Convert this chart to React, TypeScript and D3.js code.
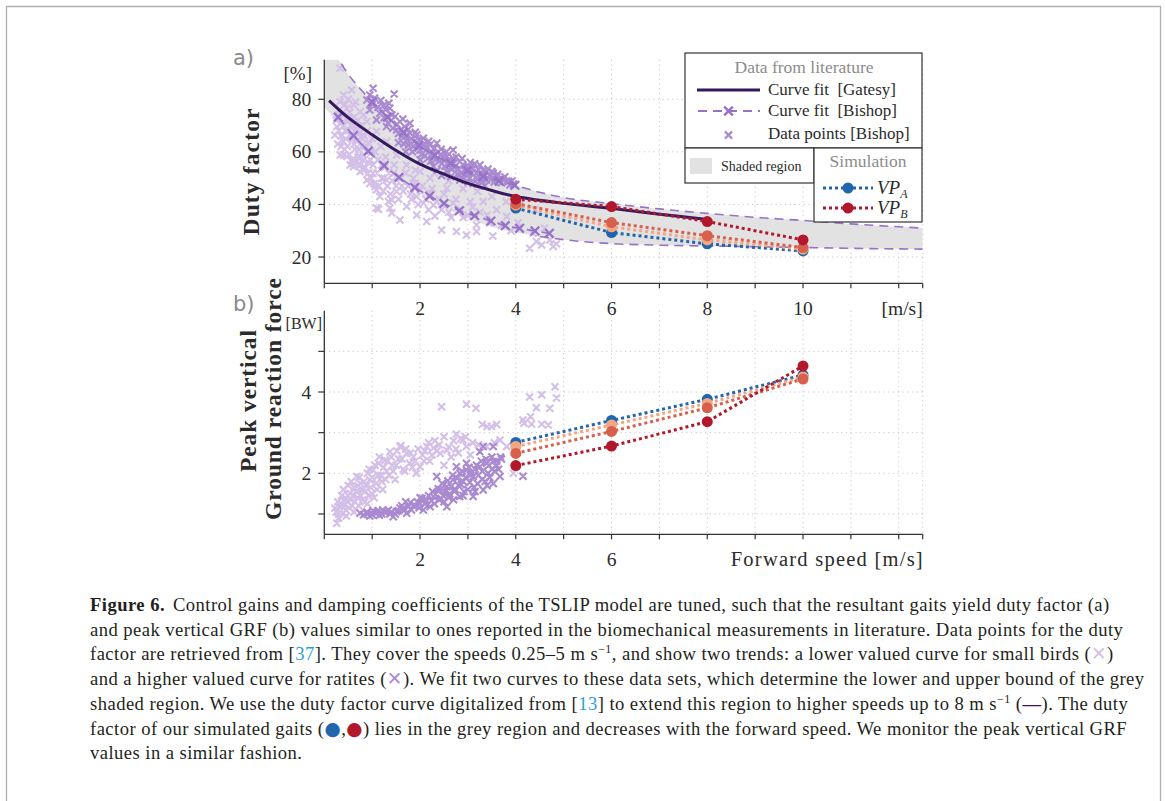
import React from 'react';
import * as d3 from 'd3';

// ---------------- data ----------------
const speedGrid = [1, 2, 3, 4, 5, 6, 7, 8, 9, 10, 11, 12, 12.5];
const speedTicks = [0, 1, 2, 3, 4, 5, 6, 7, 8, 9, 10, 11, 12, 12.5];
const topSpeedLabels = [2, 4, 6, 8, 10];
const bottomSpeedLabels = [2, 4, 6];
const dutyTicks = [20, 40, 60, 80];
const grfTicks = [1, 2, 3, 4, 5];
const grfLabels = [2, 4];

// duty factor curve fit [Gatesy]  [speed m/s, duty %]
const gatesyCurve: [number, number][] = [
  [0.1, 79.5], [0.5, 73], [1, 66.5], [1.5, 60.5], [2, 55.3], [2.5, 51.5], [3, 48],
  [3.5, 45.3], [4, 43], [5, 40.4], [6, 38.5], [7, 36.3], [8, 34.3],
];
// upper bound of shaded region (dashed, Bishop ratites fit)
const upperBound: [number, number][] = [
  [0, 103], [0.15, 99], [0.3, 95], [0.5, 89.5], [0.75, 84], [1.0, 79], [1.32, 73.2],
  [1.65, 67.5], [1.98, 62.5], [2.31, 58.7], [2.64, 55.6], [2.99, 52.9], [3.32, 50.7],
  [3.65, 48.9], [3.98, 47.3], [4.5, 44.6], [5, 42.6], [6, 40.3], [7, 38.3], [8, 36.6],
  [9, 35.1], [10, 33.9], [11, 32.6], [12.5, 31.0],
];
const upperFitMarks: [number, number][] = [
  [1.0, 79], [1.32, 73.2], [1.65, 67.5], [1.98, 62.5], [2.31, 58.7], [2.64, 55.6],
  [2.99, 52.9], [3.32, 50.7], [3.65, 48.9], [3.98, 47.3],
];
// lower Bishop fit (small birds)
const lowerFitMarks: [number, number][] = [
  [0.29, 73.2], [0.61, 66.2], [0.92, 60.3], [1.25, 54.8], [1.56, 50.3], [1.89, 46.4],
  [2.2, 43.2], [2.5, 40.4], [2.82, 37.6], [3.14, 35.7], [3.48, 33.7], [3.78, 31.9],
  [4.08, 30.9], [4.4, 29.9], [4.7, 29.0],
];
const lowerBound: [number, number][] = [
  [0, 77], [0.3, 71], [0.6, 64.5], [1, 58], [1.5, 50], [2, 44], [2.5, 38.8], [3, 34.5],
  [3.5, 31.4], [4, 29.3], [4.5, 27.8], [5, 26.6], [6, 25.1], [7, 24.5], [8, 24.2],
  [9, 23.9], [10, 23.6], [11, 23.3], [12.5, 23.0],
];

const ratitesDuty: [number, number][] = [
  [0.89, 79.7], [0.95, 75.9], [0.95, 81.6], [1.02, 84.2], [1.09, 72.1], [1.16, 74.7], [1.23, 77.5],
  [1.3, 69.6], [1.37, 76.6], [1.41, 74], [1.46, 82], [1.51, 68.3], [1.58, 71.5], [1.62, 66],
  [1.68, 69.6], [1.72, 64.5], [1.79, 67.1], [1.79, 70.9], [1.86, 62], [1.93, 66.4], [1.93, 63.5],
  [2.0, 60.7], [2.07, 65.2], [2.1, 58.5], [2.14, 62], [2.2, 62.6], [2.22, 56.5], [2.28, 58.8],
  [2.28, 54.4], [2.35, 63.3], [2.38, 60], [2.42, 58.8], [2.45, 55.5], [2.5, 57.5], [2.56, 58.2],
  [2.56, 52.5], [2.62, 56], [2.69, 57.6], [2.69, 60.7], [2.72, 54], [2.78, 51.5], [2.83, 56.3],
  [2.83, 49.3], [2.9, 55], [2.97, 54.4], [3.0, 51.2], [3.05, 56], [3.11, 53.8], [3.11, 48],
  [3.18, 52], [3.25, 55], [3.25, 50.5], [3.32, 53], [3.39, 52.5], [3.39, 49.3], [3.45, 51],
  [3.53, 51.9], [3.55, 48.5], [3.6, 50.5], [3.67, 49.8], [3.74, 49.3], [3.81, 48.5], [3.88, 47.5],
  [3.95, 47.8], [2.0, 57], [1.55, 63.5], [1.7, 60], [2.45, 51], [3.0, 48.5], [3.35, 47],
  [1.0, 78], [1.05, 80.5], [1.12, 77], [1.18, 79.5], [1.25, 73], [1.28, 76], [1.33, 71], [1.35, 78.5],
  [1.4, 72], [1.43, 69], [1.48, 73.5], [1.52, 70.5], [1.55, 67], [1.6, 68.5], [1.64, 72.5], [1.66, 63],
  [1.7, 66], [1.75, 68.5], [1.76, 62.5], [1.82, 65], [1.84, 60], [1.88, 64], [1.9, 67.5], [1.96, 61.5],
  [1.98, 64.5], [2.03, 59], [2.05, 62.5], [2.12, 60.5], [2.16, 57.5], [2.18, 64], [2.25, 59.5],
  [2.3, 61.5], [2.32, 57], [2.4, 56.5], [2.44, 61], [2.48, 58], [2.52, 54.5], [2.55, 60], [2.6, 57],
  [2.66, 53.5], [2.7, 55.5], [2.75, 58], [2.8, 53.5], [2.86, 52], [2.88, 57.5], [2.94, 52.8], [3.0, 54.6],
  [3.03, 50], [3.08, 52], [3.14, 55.5], [3.16, 50.2], [3.22, 53.2], [3.28, 51.5], [3.3, 48.5], [3.36, 51],
  [3.42, 53.5], [3.48, 49.5], [3.5, 52.5], [3.57, 49.6], [3.62, 51.5], [3.7, 48.2], [3.77, 50.5],
  [3.85, 48.8], [3.92, 48.9], [2.36, 53], [2.64, 50.5], [2.9, 50], [3.2, 48],
];
const smallBirdsDuty: [number, number][] = [
  [0.22, 66.4], [0.26, 69.6], [0.3, 74], [0.33, 91.8], [0.33, 79.1], [0.33, 58.8], [0.36, 71],
  [0.4, 81.6], [0.4, 63.9], [0.4, 58.8], [0.44, 68], [0.47, 76.6], [0.47, 58.2], [0.5, 72],
  [0.54, 55], [0.57, 83.5], [0.58, 65], [0.61, 77.8], [0.61, 55.7], [0.61, 54.4], [0.64, 61],
  [0.68, 69], [0.7, 58], [0.75, 75.3], [0.75, 58.2], [0.75, 52.5], [0.8, 65], [0.81, 53.1],
  [0.81, 58.8], [0.85, 62], [0.89, 71.5], [0.89, 49.3], [0.92, 56], [0.95, 48], [0.98, 60],
  [1.02, 51.9], [1.06, 46.8], [1.09, 67.7], [1.09, 45.5], [1.09, 38.6], [1.13, 38.2], [1.16, 43],
  [1.2, 55], [1.25, 50], [1.3, 63.9], [1.3, 49.3], [1.34, 41.1], [1.37, 38.6], [1.41, 36.7],
  [1.41, 41.7], [1.45, 52], [1.51, 58.8], [1.51, 44.9], [1.58, 34.1], [1.62, 47], [1.72, 55],
  [1.72, 39.2], [1.8, 44], [1.86, 50], [1.93, 36], [1.93, 43], [2.0, 45.5], [2.0, 52.5],
  [2.07, 40.5], [2.14, 33.5], [2.21, 44.3], [2.21, 50], [2.28, 39.8], [2.31, 35.6], [2.4, 42],
  [2.45, 30.3], [2.56, 46.2], [2.6, 37], [2.69, 40.5], [2.76, 29.7], [2.83, 49.3], [2.9, 35],
  [2.97, 28.4], [3.05, 41], [3.18, 29.7], [3.18, 32.2], [3.32, 41.1], [3.4, 36], [3.52, 28],
  [3.6, 38], [3.81, 35.4], [3.9, 30], [4.05, 33], [4.29, 23.3], [4.36, 29], [4.43, 25.9],
  [4.54, 24.6], [4.6, 31], [4.71, 26.5], [4.78, 24], [4.85, 25],
  [0.25, 72], [0.28, 63], [0.3, 68], [0.32, 76], [0.35, 62], [0.35, 66], [0.38, 74], [0.4, 70],
  [0.42, 61], [0.43, 78], [0.45, 65], [0.46, 72.5], [0.48, 62], [0.5, 68], [0.5, 80], [0.52, 59],
  [0.53, 75], [0.55, 66], [0.56, 70], [0.58, 57], [0.6, 73], [0.62, 63], [0.63, 68], [0.65, 79],
  [0.66, 56], [0.68, 64], [0.7, 72], [0.72, 61], [0.73, 67], [0.75, 55], [0.77, 70], [0.78, 62],
  [0.8, 57], [0.82, 74], [0.84, 66], [0.86, 54], [0.88, 60], [0.9, 68], [0.92, 52], [0.94, 63],
  [0.96, 57], [0.98, 50], [1.0, 65], [1.02, 55], [1.04, 48], [1.06, 60], [1.1, 52], [1.12, 57],
  [1.14, 47], [1.18, 62], [1.2, 50], [1.23, 45], [1.26, 54], [1.28, 58], [1.32, 47], [1.35, 52],
  [1.38, 44], [1.42, 49], [1.46, 55], [1.5, 47], [1.55, 42], [1.6, 50], [1.65, 45], [1.7, 52],
  [1.75, 47], [1.82, 42], [1.9, 48], [1.96, 40], [2.05, 47], [2.12, 42], [2.18, 38], [2.25, 46],
  [2.35, 41], [2.45, 38], [2.5, 44], [2.65, 35], [2.75, 42], [2.85, 38], [3.0, 36], [3.1, 39],
  [3.25, 37], [3.45, 33], [3.7, 32], [2.3, 52], [2.6, 49], [2.9, 46], [3.2, 45], [3.5, 43],
  [3.8, 41], [4.1, 40], [4.4, 38], [1.9, 53],
];

// peak vertical GRF [speed m/s, BW]
const smallBirdsGRF: [number, number][] = [
  [0.22, 1.14], [0.26, 0.77], [0.3, 1.0], [0.35, 1.25], [0.4, 1.34], [0.45, 1.1], [0.5, 1.45],
  [0.54, 1.51], [0.58, 1.2], [0.62, 1.65], [0.68, 1.92], [0.7, 1.4], [0.75, 1.75], [0.81, 1.59],
  [0.85, 1.3], [0.9, 2.0], [0.95, 1.84], [1.0, 1.5], [1.02, 2.08], [1.08, 1.75], [1.13, 2.25],
  [1.18, 1.95], [1.22, 1.6], [1.27, 2.33], [1.3, 2.05], [1.37, 2.53], [1.42, 2.2], [1.48, 1.85],
  [1.55, 2.35], [1.58, 2.66], [1.6, 2.68], [1.65, 2.1], [1.72, 2.49], [1.78, 2.25], [1.86, 2.41],
  [1.92, 2.0], [2.0, 2.16], [2.05, 2.45], [2.14, 2.66], [2.2, 2.3], [2.31, 2.8], [2.35, 2.55],
  [2.42, 2.49], [2.45, 3.64], [2.5, 2.2], [2.56, 2.57], [2.65, 2.4], [2.76, 2.96], [2.8, 2.5],
  [2.85, 2.85], [2.9, 2.82], [2.97, 2.66], [2.97, 3.7], [3.05, 2.45], [3.17, 3.6], [3.22, 2.7],
  [3.39, 2.66], [3.4, 3.15], [3.49, 3.15], [3.67, 2.82], [3.81, 2.66], [3.95, 2.0], [4.15, 3.31],
  [4.17, 3.23], [4.29, 3.88], [4.31, 3.39], [4.33, 3.21], [4.43, 3.61], [4.54, 3.93], [4.54, 3.21],
  [4.68, 3.19], [4.71, 3.6], [4.82, 4.13], [4.85, 3.85],
  [0.25, 1.05], [0.28, 1.3], [0.3, 0.9], [0.32, 1.18], [0.36, 1.45], [0.38, 1.0], [0.4, 1.6],
  [0.42, 1.22], [0.44, 1.4], [0.46, 0.95], [0.48, 1.3], [0.5, 1.7], [0.52, 1.15], [0.55, 1.35],
  [0.56, 1.8], [0.6, 1.45], [0.62, 1.05], [0.64, 1.3], [0.66, 1.55], [0.7, 1.7], [0.72, 1.2],
  [0.73, 1.9], [0.76, 1.45], [0.78, 1.62], [0.8, 1.35], [0.83, 1.8], [0.86, 1.55], [0.88, 1.7],
  [0.9, 1.25], [0.92, 1.45], [0.94, 2.1], [0.97, 1.65], [1.0, 1.9], [1.04, 1.4], [1.06, 2.2],
  [1.1, 1.6], [1.12, 1.95], [1.15, 2.4], [1.2, 1.8], [1.24, 2.15], [1.28, 1.85], [1.32, 2.3],
  [1.35, 1.95], [1.4, 2.4], [1.44, 2.05], [1.5, 2.2], [1.52, 2.55], [1.62, 2.35], [1.68, 2.05],
  [1.7, 2.6], [1.8, 2.5], [1.84, 2.15], [1.9, 2.3], [1.96, 2.6], [2.08, 2.3], [2.1, 2.55],
  [2.18, 2.75], [2.25, 2.45], [2.28, 2.62], [2.4, 2.7], [2.5, 2.9], [2.6, 2.65], [2.7, 2.8],
  [2.75, 2.6], [2.95, 2.9], [3.1, 2.75], [3.3, 3.2], [3.55, 2.75], [3.6, 3.2],
];
const ratitesGRF: [number, number][] = [
  [0.75, 1.02], [0.82, 0.98], [0.89, 1.05], [0.95, 0.95], [1.02, 1.08], [1.09, 1.02], [1.15, 0.97],
  [1.22, 1.1], [1.3, 1.06], [1.37, 1.0], [1.44, 0.93], [1.51, 1.06], [1.58, 1.15], [1.65, 1.14],
  [1.72, 1.02], [1.82, 1.1], [1.9, 1.2], [2.0, 1.26], [2.07, 1.1], [2.14, 1.34], [2.21, 1.18],
  [2.28, 1.43], [2.3, 1.25], [2.35, 1.92], [2.4, 1.35], [2.42, 1.59], [2.48, 1.45], [2.56, 1.67],
  [2.56, 1.18], [2.62, 1.5], [2.69, 1.84], [2.72, 1.55], [2.76, 2.16], [2.8, 1.7], [2.83, 2.0],
  [2.83, 1.43], [2.9, 1.8], [2.97, 2.08], [2.97, 2.25], [3.0, 1.6], [3.05, 1.95], [3.11, 1.92],
  [3.11, 1.43], [3.15, 2.1], [3.2, 1.75], [3.25, 2.16], [3.25, 2.53], [3.3, 1.85], [3.32, 1.59],
  [3.32, 2.66], [3.39, 2.25], [3.42, 2.0], [3.5, 2.1], [3.53, 2.29], [3.53, 1.75], [3.53, 2.66],
  [3.6, 2.2], [3.67, 1.92], [3.7, 2.35], [4.15, 1.93],
  [0.9, 1.0], [1.0, 0.98], [1.05, 1.04], [1.12, 1.08], [1.2, 1.0], [1.26, 1.04], [1.34, 1.1],
  [1.4, 1.05], [1.48, 1.0], [1.55, 1.08], [1.62, 1.2], [1.68, 1.1], [1.76, 1.18], [1.8, 1.28],
  [1.86, 1.2], [1.94, 1.3], [1.98, 1.15], [2.04, 1.38], [2.1, 1.25], [2.18, 1.45], [2.24, 1.32],
  [2.26, 1.55], [2.32, 1.48], [2.38, 1.62], [2.44, 1.38], [2.46, 1.75], [2.52, 1.55], [2.58, 1.82],
  [2.6, 1.4], [2.65, 1.68], [2.68, 1.95], [2.74, 1.6], [2.78, 1.88], [2.86, 1.72], [2.88, 2.05],
  [2.92, 1.55], [2.95, 1.9], [3.02, 2.15], [3.04, 1.78], [3.08, 2.02], [3.13, 1.65], [3.18, 2.2],
  [3.22, 1.95], [3.28, 2.3], [3.3, 2.05], [3.36, 1.8], [3.38, 2.35], [3.44, 2.2], [3.46, 1.9],
  [3.5, 2.4], [3.56, 2.05], [3.6, 2.3], [3.64, 2.1], [3.68, 2.4], [2.5, 1.3], [2.7, 1.35],
  [2.9, 1.45], [3.15, 1.55], [3.4, 1.7], [1.7, 1.3], [2.0, 1.4],
];

// simulation
const simSpeeds = [4, 6, 8, 10];
const dutyVPA = [38.6, 29.3, 25.0, 22.3];
const dutyMidA = [39.7, 31.5, 26.5, 23.0];
const dutyMidB = [40.3, 33.1, 28.1, 23.6];
const dutyVPB = [42.0, 39.2, 33.5, 26.5];
const grfVPA = [2.76, 3.3, 3.82, 4.42];
const grfMidA = [2.66, 3.19, 3.72, 4.37];
const grfMidB = [2.49, 3.03, 3.61, 4.32];
const grfVPB = [2.19, 2.67, 3.27, 4.64];

// ---------------- styles ----------------
const C = {
  gatesy: '#35195f',
  bishop: '#9772c9',
  light: '#d3bfe7',
  dark: '#a98ad1',
  shade: '#e2e2e2',
  grid: '#c8c8c8',
  axis: '#333',
  text: '#2b2b2b',
  vpA: '#2166ac',
  midA: '#f4a582',
  midB: '#d6604d',
  vpB: '#b2182b',
  cite: '#2a9fd8',
};
const SERIF = '"Liberation Serif", "DejaVu Serif", serif';
const SANS = '"DejaVu Sans", "Liberation Sans", sans-serif';

const xS = d3.scaleLinear().domain([0, 12.5]).range([324.3, 922.7]);
const yD = d3.scaleLinear().domain([10, 95]).range([283.3, 59.85]);
const yG = d3.scaleLinear().domain([0.5, 6]).range([534.3, 310.7]);

function crosses(pts: [number, number][], ys: (v: number) => number, s: number) {
  return pts
    .map(([a, b]) => {
      const x = xS(a), y = ys(b);
      return `M${x - s},${y - s}L${x + s},${y + s}M${x - s},${y + s}L${x + s},${y - s}`;
    })
    .join('');
}

const Cross = ({ x, y, s, color, w }: any) => (
  <path d={`M${x - s},${y - s}L${x + s},${y + s}M${x - s},${y + s}L${x + s},${y - s}`} stroke={color} strokeWidth={w} fill="none" />
);

export default function App() {
  const lineD = d3.line<[number, number]>().x((d) => xS(d[0])).y((d) => yD(d[1])).curve(d3.curveMonotoneX);
  const up = lineD(upperBound) as string;
  const lowRev = (d3.line<[number, number]>().x((d) => xS(d[0])).y((d) => yD(d[1])).curve(d3.curveLinear)(
    lowerBound.slice().reverse()
  ) as string).replace(/^M/, 'L');
  const shadePath = up + lowRev + 'Z';

  const sims = [
    { key: 'A', duty: dutyVPA, grf: grfVPA, color: C.vpA },
    { key: 'mA', duty: dutyMidA, grf: grfMidA, color: C.midA },
    { key: 'mB', duty: dutyMidB, grf: grfMidB, color: C.midB },
    { key: 'B', duty: dutyVPB, grf: grfVPB, color: C.vpB },
  ];
  const simLine = (vals: number[], ys: (v: number) => number) =>
    d3.line<number>().x((_, i) => xS(simSpeeds[i])).y((d) => ys(d))(vals) as string;

  const x0 = xS(0), x1 = xS(12.5);
  const capX = 90;
  const capY0 = 611;
  const capDy = 24.7;
  const capFs = 18.6;
  const ms = 3.5;

  return (
    <svg width={1165} height={801} style={{ position: 'absolute', left: 0, top: 0, background: '#fff' }} fontFamily={SERIF}>
      <defs>
        <clipPath id="clipTop">
          <rect x={x0} y={yD(95)} width={x1 - x0} height={yD(10) - yD(95)} />
        </clipPath>
        <clipPath id="clipBot">
          <rect x={x0} y={yG(6)} width={x1 - x0} height={yG(0.5) - yG(6)} />
        </clipPath>
      </defs>
      <rect x={0} y={0} width={1165} height={801} fill="#fff" />
      {/* frame */}
      <path d="M6.5,820V6.5H1160.5V820" fill="none" stroke="#b0b0b0" strokeWidth={1.3} />

      {/* ---------- panel a ---------- */}
      <g>
        {speedGrid.map((v) => (
          <line key={'gv' + v} x1={xS(v)} x2={xS(v)} y1={yD(95)} y2={yD(10)} stroke={C.grid} strokeDasharray="1.2,3.5" />
        ))}
        {dutyTicks.map((v) => (
          <line key={'gh' + v} x1={x0} x2={x1} y1={yD(v)} y2={yD(v)} stroke={C.grid} strokeDasharray="1.2,3.5" />
        ))}
        <g clipPath="url(#clipTop)">
          <path d={shadePath} fill={C.shade} />
          <path d={crosses(smallBirdsDuty, yD, ms)} stroke={C.light} strokeWidth={2.1} fill="none" />
          <path d={crosses(ratitesDuty, yD, ms)} stroke={C.dark} strokeWidth={2.1} fill="none" />
          <path d={up} fill="none" stroke={C.bishop} strokeWidth={1.6} strokeDasharray="9,6" />
          <path d={lineD(lowerBound.filter((d) => d[0] >= 4.5)) as string} fill="none" stroke={C.bishop} strokeWidth={1.6} strokeDasharray="9,6" />
          <path d={lineD(lowerFitMarks) as string} fill="none" stroke={C.bishop} strokeWidth={1.6} strokeDasharray="9,6" />
          <path d={crosses(upperFitMarks, yD, 4.3)} stroke={C.bishop} strokeWidth={2.3} fill="none" />
          <path d={crosses(lowerFitMarks, yD, 4.3)} stroke={C.bishop} strokeWidth={2.3} fill="none" />
          <path d={d3.line<[number, number]>().x((d) => xS(d[0])).y((d) => yD(d[1])).curve(d3.curveCatmullRom)(gatesyCurve) as string}
            fill="none" stroke={C.gatesy} strokeWidth={3} />
          {sims.map((s) => (
            <path key={'ld' + s.key} d={simLine(s.duty, yD)} fill="none" stroke={s.color} strokeWidth={3} strokeDasharray="3,3" />
          ))}
          {sims.map((s) =>
            s.duty.map((v, i) => <circle key={'cd' + s.key + i} cx={xS(simSpeeds[i])} cy={yD(v)} r={5.5} fill={s.color} />)
          )}
        </g>
        {/* axes */}
        <line x1={x0} x2={x0} y1={yD(95)} y2={yD(10)} stroke={C.axis} strokeWidth={1.3} />
        <line x1={x0} x2={x1} y1={yD(10)} y2={yD(10)} stroke={C.axis} strokeWidth={1.3} />
        {speedTicks.map((v) => (
          <line key={'tx' + v} x1={xS(v)} x2={xS(v)} y1={yD(10)} y2={yD(10) + 5} stroke={C.axis} strokeWidth={1.2} />
        ))}
        {dutyTicks.map((v) => (
          <g key={'ty' + v}>
            <line x1={x0 - 6} x2={x0} y1={yD(v)} y2={yD(v)} stroke={C.axis} strokeWidth={1.2} />
            <text x={x0 - 13} y={yD(v) + 6.5} textAnchor="end" fontSize={19.5} fill={C.text}>{v}</text>
          </g>
        ))}
        {topSpeedLabels.map((v) => (
          <text key={'lx' + v} x={xS(v)} y={315} textAnchor="middle" fontSize={19.5} fill={C.text}>{v}</text>
        ))}
        <text x={x1} y={315} textAnchor="end" fontSize={19.5} fill={C.text}>[m/s]</text>
        <text x={312} y={80} textAnchor="end" fontSize={19} fill={C.text}>[%]</text>
        <text x={233} y={65} fontSize={21} fontFamily={SANS} fill="#8a8a8a">a)</text>
        <text transform="translate(259,172) rotate(-90)" textAnchor="middle" fontSize={23.5} fontWeight="bold" fill={C.text} textLength={127}>Duty factor</text>
      </g>

      {/* ---------- panel b ---------- */}
      <g>
        {speedGrid.map((v) => (
          <line key={'bgv' + v} x1={xS(v)} x2={xS(v)} y1={yG(6)} y2={yG(0.5)} stroke={C.grid} strokeDasharray="1.2,3.5" />
        ))}
        {grfTicks.map((v) => (
          <line key={'bgh' + v} x1={x0} x2={x1} y1={yG(v)} y2={yG(v)} stroke={C.grid} strokeDasharray="1.2,3.5" />
        ))}
        <g clipPath="url(#clipBot)">
          <path d={crosses(smallBirdsGRF, yG, ms)} stroke={C.light} strokeWidth={2.1} fill="none" />
          <path d={crosses(ratitesGRF, yG, ms)} stroke={C.dark} strokeWidth={2.1} fill="none" />
          {sims.map((s) => (
            <path key={'lg' + s.key} d={simLine(s.grf, yG)} fill="none" stroke={s.color} strokeWidth={3} strokeDasharray="3,3" />
          ))}
          {sims.map((s) =>
            s.grf.map((v, i) => <circle key={'cg' + s.key + i} cx={xS(simSpeeds[i])} cy={yG(v)} r={5.5} fill={s.color} />)
          )}
        </g>
        <line x1={x0} x2={x0} y1={yG(6)} y2={yG(0.5)} stroke={C.axis} strokeWidth={1.3} />
        <line x1={x0} x2={x1} y1={yG(0.5)} y2={yG(0.5)} stroke={C.axis} strokeWidth={1.3} />
        {speedTicks.map((v) => (
          <line key={'btx' + v} x1={xS(v)} x2={xS(v)} y1={yG(0.5)} y2={yG(0.5) + 5} stroke={C.axis} strokeWidth={1.2} />
        ))}
        {grfTicks.map((v) => (
          <line key={'bty' + v} x1={x0 - 6} x2={x0} y1={yG(v)} y2={yG(v)} stroke={C.axis} strokeWidth={1.2} />
        ))}
        {grfLabels.map((v) => (
          <text key={'bly' + v} x={x0 - 13} y={yG(v) + 6.5} textAnchor="end" fontSize={19.5} fill={C.text}>{v}</text>
        ))}
        {bottomSpeedLabels.map((v) => (
          <text key={'blx' + v} x={xS(v)} y={566} textAnchor="middle" fontSize={19.5} fill={C.text}>{v}</text>
        ))}
        <text x={x1} y={566} textAnchor="end" fontSize={20.5} fill={C.text} textLength={192}>Forward speed [m/s]</text>
        <text x={322} y={329} textAnchor="end" fontSize={16} fill={C.text}>[BW]</text>
        <text x={233} y={311} fontSize={21} fontFamily={SANS} fill="#8a8a8a">b)</text>
        <text transform="translate(256,401) rotate(-90)" textAnchor="middle" fontSize={23.5} fontWeight="bold" fill={C.text} textLength={142}>Peak vertical</text>
        <text transform="translate(281,399) rotate(-90)" textAnchor="middle" fontSize={23.5} fontWeight="bold" fill={C.text} textLength={242}>Ground reaction force</text>
      </g>

      {/* ---------- legend ---------- */}
      <g>
        <rect x={685} y={53} width={237} height={95} fill="#fff" stroke="#333" strokeWidth={1.2} />
        <text x={804} y={73} textAnchor="middle" fontSize={17.5} fill="#8c8c8c">Data from literature</text>
        <line x1={697} x2={760} y1={90} y2={90} stroke={C.gatesy} strokeWidth={3} />
        <text x={768} y={95} fontSize={17} fill={C.text} xmlSpace="preserve">Curve fit  [Gatesy]</text>
        <line x1={697} x2={760} y1={111} y2={111} stroke={C.bishop} strokeWidth={1.8} strokeDasharray="9,6" strokeDashoffset={-1} />
        <Cross x={728.5} y={111} s={4.3} color={C.bishop} w={2.4} />
        <text x={768} y={116} fontSize={17} fill={C.text} xmlSpace="preserve">Curve fit  [Bishop]</text>
        <Cross x={728.5} y={135} s={3.6} color={C.dark} w={2.2} />
        <text x={768} y={139} fontSize={17} fill={C.text}>Data points [Bishop]</text>

        <rect x={685} y={148} width={129} height={35} fill="#fff" stroke="#333" strokeWidth={1.2} />
        <rect x={690} y={158} width={22} height={16} fill={C.shade} />
        <text x={721} y={171} fontSize={14} fill={C.text}>Shaded region</text>

        <rect x={814} y={148} width={108} height={74} fill="#fff" stroke="#333" strokeWidth={1.2} />
        <text x={868} y={167} textAnchor="middle" fontSize={17.5} fill="#8c8c8c">Simulation</text>
        <line x1={823} x2={873} y1={188} y2={188} stroke={C.vpA} strokeWidth={3} strokeDasharray="3,3" />
        <circle cx={848} cy={188} r={5.5} fill={C.vpA} />
        <text x={877} y={194} fontSize={19} fontStyle="italic" fill={C.text}>VP<tspan fontSize={12} dy={4}>A</tspan></text>
        <line x1={823} x2={873} y1={208} y2={208} stroke={C.vpB} strokeWidth={3} strokeDasharray="3,3" />
        <circle cx={848} cy={208} r={5.5} fill={C.vpB} />
        <text x={877} y={214} fontSize={19} fontStyle="italic" fill={C.text}>VP<tspan fontSize={12} dy={4}>B</tspan></text>
      </g>

      {/* ---------- caption ---------- */}
      <g fontSize={capFs} fill="#231f20" letterSpacing={0.45}>
        <text x={capX} y={capY0}>
          <tspan fontWeight="bold">Figure 6.</tspan>
          <tspan dx={8}>Control gains and damping coefficients of the TSLIP model are tuned, such that the resultant gaits yield duty factor (a)</tspan>
        </text>
        <text x={capX} y={capY0 + capDy}>and peak vertical GRF (b) values similar to ones reported in the biomechanical measurements in literature. Data points for the duty</text>
        <text x={capX} y={capY0 + 2 * capDy}>
          factor are retrieved from [<tspan fill={C.cite}>37</tspan>]. They cover the speeds 0.25–5 m s<tspan fontSize={12} dy={-7}>−1</tspan>
          <tspan dy={7}>, and show two trends: a lower valued curve for small birds (</tspan>
          <tspan fill={C.light} fontFamily={SANS} fontWeight="bold">✕</tspan>)
        </text>
        <text x={capX} y={capY0 + 3 * capDy}>
          and a higher valued curve for ratites (<tspan fill={C.dark} fontFamily={SANS} fontWeight="bold">✕</tspan>). We fit two curves to these data sets, which determine the lower and upper bound of the grey
        </text>
        <text x={capX} y={capY0 + 4 * capDy}>
          shaded region. We use the duty factor curve digitalized from [<tspan fill={C.cite}>13</tspan>] to extend this region to higher speeds up to 8 m s<tspan fontSize={12} dy={-7}>−1</tspan>
          <tspan dy={7}> (</tspan><tspan fill={C.gatesy} fontWeight="bold">—</tspan>). The duty
        </text>
        <text x={capX} y={capY0 + 5 * capDy}>
          factor of our simulated gaits (<tspan fill={C.vpA} fontFamily={SANS}>●</tspan>,<tspan fill={C.vpB} fontFamily={SANS}>●</tspan>) lies in the grey region and decreases with the forward speed. We monitor the peak vertical GRF
        </text>
        <text x={capX} y={capY0 + 6 * capDy}>values in a similar fashion.</text>
      </g>
    </svg>
  );
}
